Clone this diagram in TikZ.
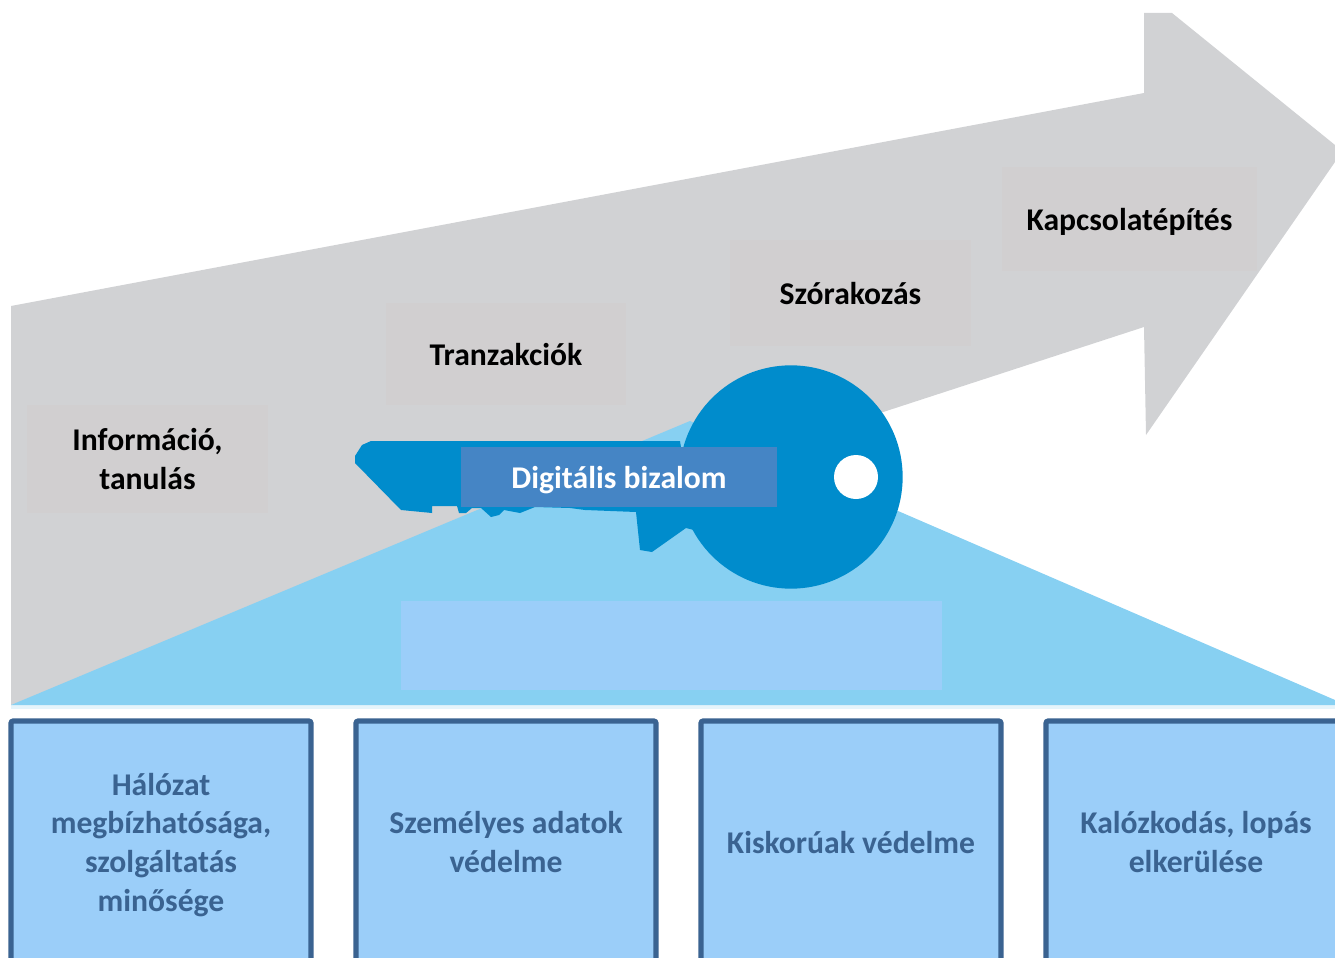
\documentclass[tikz,border=0pt]{standalone}
\usepackage{fontspec}
\setmainfont{Carlito}
\usetikzlibrary{calc}
\definecolor{arrowgray}{HTML}{D1D2D4}
\definecolor{labelgray}{HTML}{D1CFD0}
\definecolor{basecyan}{HTML}{87D0F2}
\definecolor{palecyan}{HTML}{E5F4FB}
\definecolor{boxblue}{HTML}{9BCEF9}
\definecolor{boxline}{HTML}{3A6391}
\definecolor{keyblue}{HTML}{008CCC}
\definecolor{keylabel}{HTML}{4585C5}
\tikzset{
    labeltext/.style={font=\bfseries\fontsize{27}{33}\selectfont,align=center,text depth=0pt},
    uselabel/.style={labeltext,fill=labelgray,inner sep=0pt,text=black},
    pillarbox/.style={labeltext,draw=boxline,fill=boxblue,line width=4.5pt,rounded corners=2pt,
        minimum width=9cm,minimum height=7.26cm,inner sep=0pt,text=boxline}
}
\begin{document}
\begin{tikzpicture}[x=0.03cm,y=-0.03cm]
            \useasboundingbox (0,0) rectangle (1335,958);
            \clip (0,0) rectangle (1335,958);
            % big arrow
            \coordinate (A) at (11,306);
            \coordinate (B) at (1144,93);
            \coordinate (C) at (1144,13);
            \coordinate (D) at (1172,13);
            \coordinate (E) at (1335,145);
            \coordinate (F) at (1335,162);
            \coordinate (G) at (1146,435);
            \coordinate (H) at (1144,327);
            \coordinate (I) at (690,475);
            \coordinate (J) at (11,705);
            \fill[arrowgray] (A) -- (B) -- (C) -- (D) -- (E) -- (F) -- (G) -- (H) -- (I) -- (J) -- cycle;
            % base
            \fill[palecyan] (11,705) rectangle (1335,709);
            \fill[basecyan] (11,705) -- (690,421) -- (1335,700) -- (1335,705) -- cycle;
            \fill[boxblue] (401,601) rectangle (942,690);
            % labels on the arrow
            \node[uselabel,minimum width=7.23cm,minimum height=3.24cm] (info) at (147.5,459) {Információ,\\tanulás};
            \node[uselabel,minimum width=7.2cm,minimum height=3.06cm] (tranz) at (506,354) {Tranzakciók};
            \node[uselabel,minimum width=7.23cm,minimum height=3.18cm] (szor) at (850.5,293) {Szórakozás};
            \node[uselabel,minimum width=7.65cm,minimum height=3.12cm] (kapcs) at (1129.5,219) {Kapcsolatépítés};
            % key
            \fill[keyblue] (355,463) -- (355,456) -- (362,445) -- (371,441) -- (680,441) -- (694,530) -- (686,528)
                -- (652,552) -- (640,550) -- (636,512) -- (585,510) -- (570,508) -- (535,507) -- (520,513)
                -- (504,510) -- (499,515) -- (491,517) -- (481,508) -- (472,508) -- (466,513) -- (459,513)
                -- (457,506) -- (432,506) -- (432,513) -- (401,510) -- cycle;
            \fill[keyblue] (791,477) circle (3.35cm);
            \fill[white] (856,477) circle (0.66cm);
            \node[labeltext,fill=keylabel,text=white,minimum width=9.48cm,minimum height=1.8cm,inner sep=0pt] (trust) at (619,477) {Digitális bizalom};
            % pillars
            \node[pillarbox] (net) at (161,842) {Hálózat\\megbízhatósága,\\szolgáltatás\\minősége};
            \node[pillarbox] (data) at (506,842) {Személyes adatok\\védelme};
            \node[pillarbox] (minor) at (851,842) {Kiskorúak védelme};
            \node[pillarbox] (piracy) at (1196,842) {Kalózkodás, lopás\\elkerülése};
        \end{tikzpicture}
\end{document}
